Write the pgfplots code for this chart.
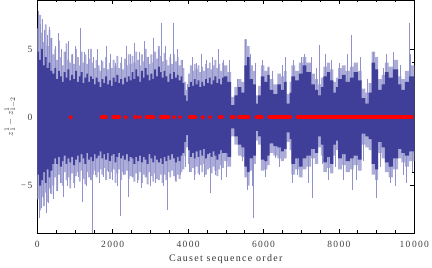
\documentclass[border=0pt]{standalone}
\usepackage{fontspec}
\setmainfont{Liberation Serif}
\usepackage{pgfplots}
\pgfplotsset{compat=1.18}
\usepackage{pgfplotstable}
\usepgfplotslibrary{fillbetween}
\definecolor{dk}{RGB}{63,63,154}
\definecolor{lt}{RGB}{172,172,216}
\definecolor{sp}{RGB}{145,145,204}

\pgfplotstableread{
x du dl lu ll
0 4.8 -4.2 6.5 -6.0
50 4.2 -5.0 7.5 -6.8
100 5.0 -4.6 6.2 -5.8
150 3.8 -4.0 5.5 -6.5
200 4.4 -4.8 6.8 -5.5
250 3.6 -3.8 5.2 -6.2
300 4.0 -4.4 6.4 -5.2
350 3.4 -3.9 5.8 -5.6
400 3.2 -3.4 4.6 -5.0
450 3.6 -3.0 5.0 -4.4
500 2.8 -3.4 4.2 -5.4
550 3.4 -2.9 5.6 -4.2
600 3.0 -3.6 4.4 -4.8
650 2.6 -3.2 3.8 -5.0
700 3.3 -2.8 4.8 -4.0
750 2.9 -3.4 5.4 -4.6
800 3.5 -3.0 4.2 -4.4
850 2.7 -3.3 4.0 -5.2
900 3.1 -2.9 4.6 -4.1
950 2.8 -3.5 3.9 -4.8
1000 3.4 -3.1 5.0 -4.3
1050 2.6 -2.8 4.4 -4.0
1100 3.0 -3.3 3.8 -4.7
1150 3.3 -2.7 4.8 -3.9
1200 2.5 -3.0 4.0 -4.5
1250 2.9 -3.4 4.6 -4.9
1300 3.2 -2.6 3.9 -4.0
1350 2.6 -3.1 4.3 -4.4
1400 3.0 -2.9 5.0 -4.6
1450 2.8 -3.2 4.0 -4.2
1500 2.4 -2.7 3.6 -3.9
1550 2.9 -3.0 4.2 -4.4
1600 2.6 -2.8 3.8 -4.0
1650 2.2 -2.5 3.4 -3.8
1700 2.8 -3.0 4.1 -4.2
1750 2.5 -2.7 3.6 -3.7
1800 3.0 -3.1 4.4 -4.6
1850 2.4 -2.6 3.5 -3.9
1900 2.7 -3.2 4.0 -4.5
1950 2.3 -2.8 3.6 -4.0
2000 2.9 -2.7 4.2 -3.8
2050 2.6 -3.3 3.7 -4.8
2100 3.1 -2.9 4.5 -4.1
2150 2.5 -2.6 3.6 -3.8
2200 2.8 -3.0 4.0 -4.6
2250 2.4 -2.8 3.5 -4.0
2300 2.9 -3.1 4.3 -4.2
2350 2.6 -2.7 3.8 -3.9
2400 3.0 -3.2 4.6 -4.5
2450 2.7 -2.9 3.9 -4.3
2500 3.3 -3.0 4.5 -4.4
2550 2.8 -3.4 4.0 -4.7
2600 3.5 -2.9 4.8 -4.1
2650 3.0 -3.2 4.2 -4.6
2700 2.6 -2.8 3.8 -4.0
2750 3.4 -3.3 4.6 -4.8
2800 2.9 -2.9 4.1 -4.2
2850 3.6 -3.1 5.0 -4.4
2900 3.1 -3.4 4.4 -4.9
2950 2.7 -2.7 3.9 -4.0
3000 3.2 -3.0 4.6 -4.3
3050 2.8 -3.3 4.0 -4.7
3100 3.5 -2.8 4.8 -4.1
3150 3.0 -3.1 4.3 -4.5
3200 3.7 -3.3 5.2 -4.6
3250 3.3 -3.0 4.5 -4.2
3300 2.9 -3.4 4.1 -4.8
3350 3.4 -2.9 4.7 -4.2
3400 3.0 -3.2 4.2 -4.6
3450 2.6 -2.8 3.8 -4.0
3500 3.2 -3.1 4.4 -4.4
3550 2.8 -2.7 3.9 -3.9
3600 3.3 -3.0 4.6 -4.3
3650 2.9 -3.3 4.1 -4.7
3700 3.1 -2.9 4.4 -4.2
3750 2.7 -3.2 3.8 -4.5
3800 3.0 -2.8 4.2 -4.0
3850 2.5 -2.6 3.6 -3.8
3900 1.6 -1.8 2.6 -2.8
3950 1.2 -1.3 2.0 -2.2
4000 2.2 -2.4 3.2 -3.4
4050 2.6 -2.9 3.8 -4.0
4100 2.3 -2.6 3.4 -3.7
4150 2.8 -3.0 3.9 -4.2
4200 2.4 -2.5 3.5 -3.6
4250 2.7 -2.9 3.8 -4.1
4300 2.2 -2.4 3.3 -3.5
4350 2.6 -2.8 3.7 -4.0
4400 2.3 -2.3 3.4 -3.4
4450 2.8 -3.0 3.9 -4.2
4500 2.5 -2.7 3.6 -3.8
4550 2.9 -2.6 4.0 -3.7
4600 2.4 -2.9 3.5 -4.1
4650 2.7 -2.5 3.8 -3.6
4700 3.0 -2.8 4.2 -3.9
4750 2.5 -3.1 3.6 -4.3
4800 2.8 -2.7 3.9 -3.8
4850 2.4 -2.4 3.4 -3.5
4900 2.9 -2.6 4.0 -3.7
4950 3.0 -2.6 3.8 -3.2
5040 2.6 -2.9 3.3 -3.6
5140 0.9 -0.8 1.5 -1.4
5230 1.6 -1.4 2.2 -2.0
5320 2.2 -2.0 2.8 -2.8
5410 1.8 -2.2 2.6 -2.9
5490 3.8 -3.6 5.7 -4.4
5560 4.4 -4.0 5.2 -5.0
5630 2.8 -3.0 3.8 -3.9
5720 2.4 -2.8 3.4 -3.4
5800 1.0 -1.0 1.6 -1.7
5860 1.6 -1.4 2.3 -2.0
5930 3.0 -3.1 3.8 -3.9
6020 2.6 -3.2 3.4 -3.8
6100 3.1 -2.8 3.7 -3.5
6160 2.0 -1.9 2.8 -2.6
6260 1.7 -2.1 2.4 -2.8
6370 2.4 -2.2 3.2 -3.0
6460 2.0 -2.5 3.0 -3.2
6540 2.6 -2.3 3.4 -3.0
6610 1.0 -1.1 1.7 -1.8
6690 1.8 -1.6 2.6 -2.4
6740 3.0 -3.4 3.8 -4.2
6840 2.7 -3.0 3.4 -3.8
6940 3.2 -3.6 4.0 -4.4
7040 3.8 -3.0 4.4 -3.8
7140 3.3 -2.8 4.0 -3.6
7260 2.4 -2.3 3.2 -3.0
7360 2.0 -2.6 2.8 -3.4
7450 1.6 -1.4 2.4 -2.2
7520 2.2 -2.0 2.9 -2.8
7590 3.0 -3.3 3.7 -4.0
7680 3.3 -2.9 4.0 -3.7
7770 2.7 -3.4 3.5 -4.1
7850 1.8 -2.0 2.6 -2.8
7920 2.2 -1.7 2.9 -2.4
7980 2.8 -3.0 3.6 -3.8
8080 3.1 -2.7 3.8 -3.5
8180 2.6 -3.2 3.4 -4.0
8290 2.9 -3.0 3.7 -3.8
8390 3.3 -2.8 4.0 -3.5
8500 2.7 -3.1 3.4 -3.9
8600 1.4 -1.2 2.1 -2.0
8700 1.0 -1.4 1.8 -2.2
8790 1.8 -1.6 2.5 -2.4
8870 4.0 -3.4 4.8 -4.2
8960 3.5 -3.8 4.4 -4.6
9040 2.0 -1.8 2.8 -2.6
9130 2.4 -2.2 3.1 -3.0
9220 3.3 -3.3 4.0 -4.0
9320 2.9 -3.6 3.7 -4.4
9430 3.5 -3.0 4.2 -3.8
9570 2.4 -2.3 3.0 -3.0
9660 2.0 -2.6 2.8 -3.3
9750 2.6 -2.8 3.4 -3.6
9860 3.0 -2.5 3.8 -3.2
10000 3.0 -2.5 3.8 -3.2
}\env

\pgfplotstableread{
x y
20 7.8
40 -7.4
70 6.8
100 -6.6
130 7.2
160 -5.9
190 6.4
230 -7.0
260 6.0
290 -6.3
320 6.6
350 -5.5
380 5.8
420 -6.0
470 5.2
520 -5.4
560 6.2
600 -4.8
640 5.0
690 -5.8
740 4.8
790 -5.0
830 5.6
880 -4.6
920 4.6
970 -5.2
1020 5.2
1080 -4.4
1140 6.5
1190 -6.2
1240 4.8
1300 -5.0
1350 5.0
1400 -4.6
1450 -8.5
1480 4.4
1530 -4.2
1580 5.0
1640 -4.8
1700 4.2
1760 -4.4
1820 5.2
1880 -4.0
1940 4.6
2000 -4.6
2060 4.0
2120 -5.0
2195 -7.2
2230 4.4
2290 -4.2
2350 5.2
2410 -5.8
2460 4.6
2520 -4.4
2580 5.4
2640 -4.8
2700 4.8
2770 -5.2
2830 5.6
2890 -4.4
2950 4.4
3010 -5.0
3070 5.8
3140 -4.8
3200 5.0
3290 6.9
3340 -5.0
3400 5.2
3460 -6.8
3520 4.6
3600 6.9
3650 -4.6
3720 5.0
3780 -4.2
3850 4.2
3920 -3.6
3990 2.4
4040 -4.0
4100 4.4
4170 -4.6
4230 4.0
4290 -4.2
4350 4.6
4420 -4.4
4490 4.2
4580 -5.5
4640 4.4
4720 -4.2
4800 5.0
4870 -4.6
4940 4.2
5020 -4.4
5100 4.2
5300 2.8
5450 -3.2
5510 5.7
5580 -5.3
5650 4.6
5700 -5.0
5740 -7.4
5780 4.0
5960 4.2
6060 -4.4
6130 3.6
6240 3.4
6300 -3.0
6420 -3.6
6500 3.8
6590 4.4
6760 -4.8
6800 4.2
6900 -4.2
6990 4.4
7080 4.6
7190 -4.8
7280 4.4
7300 -5.9
7410 3.6
7470 5.3
7560 -3.4
7640 4.6
7720 -4.6
7800 4.2
7900 -3.6
8010 4.0
8120 -4.6
8220 4.6
8340 6.0
8360 -5.3
8450 -4.6
8560 4.4
8650 -3.2
8760 2.8
8900 4.8
8990 -5.9
9100 -3.6
9180 3.6
9260 4.6
9350 -4.8
9440 4.8
9500 -5.0
9620 3.8
9700 -4.2
9780 -4.8
9880 6.9
9900 4.6
9950 -4.0
}\spikes

\pgfplotstableread{
x y
1710 0
1817 0
nan nan
2013 0
2172 0
nan nan
2595 0
2615 0
nan nan
2897 0
3082 0
nan nan
3276 0
3480 0
nan nan
4045 0
4188 0
nan nan
4841 0
4894 0
nan nan
5151 0
5204 0
nan nan
5345 0
5602 0
nan nan
5815 0
5955 0
nan nan
6151 0
6708 0
nan nan
6902 0
9933 0
}\runs

\pgfplotstableread{
x y
886 0
2345 0
2724 0
3626 0
3785 0
4387 0
4581 0
}\dots

\begin{document}
\begin{tikzpicture}
\begin{axis}[
  scale only axis, width=377pt, height=233pt,
  xmin=0, xmax=10000, ymin=-8.46, ymax=8.58,
  scaled x ticks=false, scaled y ticks=false,
  xtick={0,2000,4000,6000,8000,10000},
  xticklabels={0,2000,4000,6000,8000,10\,000},
  minor x tick num=3,
  ytick={-5,0,5}, yticklabels={−5,0,5},
  minor y tick num=4,
  tick align=inside,
  major tick length=4pt, minor tick length=2.5pt,
  tick style={black, line width=0.6pt},
  axis line style={line width=0.8pt},
  tick label style={font=\fontsize{9.5}{10}\selectfont\addfontfeature{LetterSpace=14}, text=black!75},
  xticklabel style={yshift=-5pt},
  yticklabel style={xshift=-1.5pt},
  xlabel={Causet sequence order},
  xlabel style={at={(axis description cs:0.5,0)}, anchor=base, yshift=-29pt,
    font=\fontsize{10}{12}\selectfont\addfontfeature{LetterSpace=13}, text=black!80},
  ylabel={$z_1^1-z_{1-2}^1$},
  ylabel style={at={(axis description cs:-0.0716,0.5)}, anchor=center,
    font=\fontsize{9.5}{10}\selectfont, text=black!80},
  unbounded coords=jump,
  fill between/on layer=main,
]
\addplot[const plot, draw=none, name path=LU, forget plot] table[x=x,y=lu]{\env};
\addplot[const plot, draw=none, name path=LL, forget plot] table[x=x,y=ll]{\env};
\addplot[lt, draw=none] fill between[of=LU and LL];
\addplot[ycomb, sp, line width=0.6pt, mark=none] table[x=x,y=y]{\spikes};
\addplot[const plot, draw=none, name path=DU, forget plot] table[x=x,y=du]{\env};
\addplot[const plot, draw=none, name path=DL, forget plot] table[x=x,y=dl]{\env};
\addplot[dk, draw=none] fill between[of=DU and DL];
\addplot[red, line width=3.8pt, line cap=round, mark=none] table[x=x,y=y]{\runs};
\addplot[only marks, mark=*, mark size=1.9pt, red, mark options={draw=none}] table[x=x,y=y]{\dots};
\end{axis}
\path (current axis.south west) ++(-37.3pt,-35pt) coordinate (bl);
\path (current axis.north east) ++(17.7pt,0pt) coordinate (tr);
\pgfresetboundingbox
\path[use as bounding box] (bl) rectangle (tr);
\end{tikzpicture}
\end{document}
